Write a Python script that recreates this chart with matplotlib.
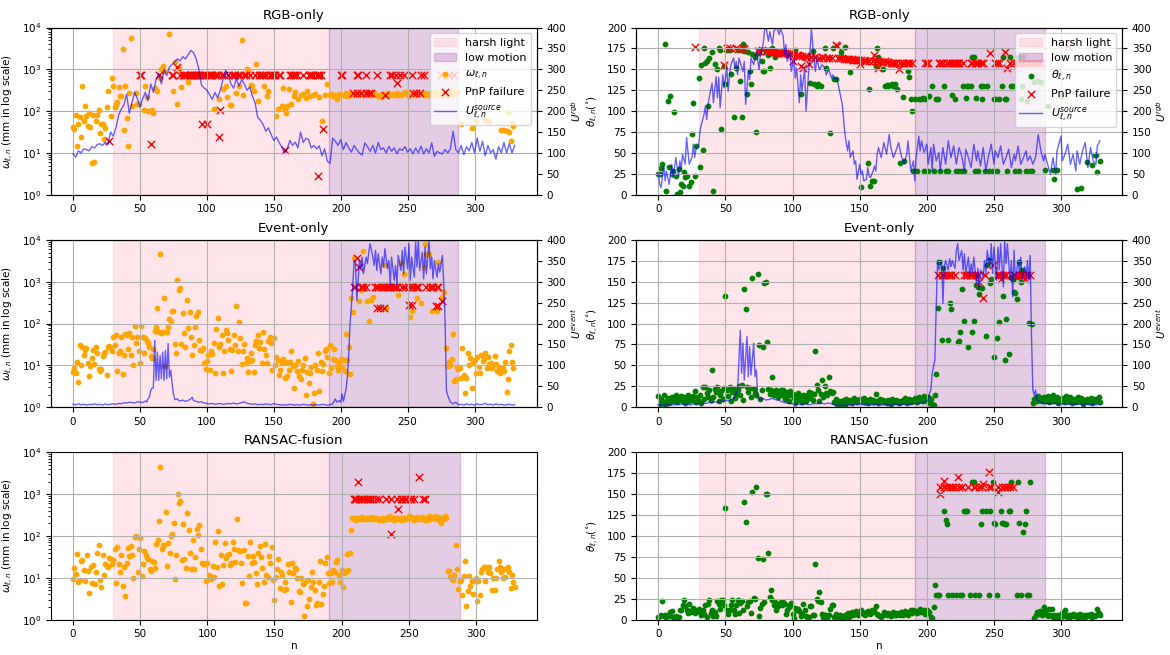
import numpy as np
import matplotlib.pyplot as plt

nan = np.nan

harsh_light = (30, 191)
low_motion = (191, 288)

# ---------------- RGB-only ----------------
rgb_w_n = [0, 1, 2, 3, 4, 5, 6, 7, 8, 9,
           10, 11, 12, 13, 14, 15, 16, 17, 18, 19,
           20, 21, 22, 23, 24, 25, 26, 28, 29, 30,
           31, 32, 33, 34, 35, 36, 37, 38, 39, 40,
           41, 42, 43, 44, 47, 48, 49, 53, 54, 55,
           56, 59, 60, 61, 63, 65, 66, 67, 68, 72,
           75, 76, 78, 79, 81, 86, 105, 109, 112, 114,
           115, 117, 118, 122, 124, 126, 127, 130, 131, 133,
           134, 135, 137, 138, 143, 145, 146, 152, 153, 156,
           157, 158, 159, 160, 161, 163, 165, 166, 168, 170,
           172, 174, 175, 177, 179, 181, 184, 186, 188, 190,
           192, 193, 194, 195, 197, 198, 199, 202, 203, 204,
           205, 206, 207, 209, 210, 214, 216, 217, 218, 220,
           222, 223, 225, 226, 228, 229, 230, 231, 232, 234,
           235, 236, 239, 240, 242, 243, 245, 246, 248, 249,
           250, 251, 252, 255, 257, 258, 261, 263, 264, 265,
           266, 267, 268, 269, 270, 271, 272, 273, 274, 275,
           276, 277, 278, 279, 280, 281, 282, 283, 284, 286,
           287, 290, 298, 301, 308, 311, 320, 322, 324, 325,
           326, 327, 328, 329]
rgb_w = [42, 38, 80, 15, 48, 72, 24, 400, 57, 135,
         76, 45, 91, 42, 5.6, 79, 6.2, 57, 79, 105,
         30, 50, 48, 21, 40, 125, 310, 76, 620, 400,
         125, 150, 165, 380, 230, 230, 3100, 35, 400, 70,
         15, 270, 5600, 130, 275, 145, 150, 105, 400, 215,
         100, 105, 90, 350, 300, 620, 1000, 1200, 900, 7000,
         300, 1500, 150, 1070, 380, 490, 110, 190, 330, 400,
         220, 140, 140, 275, 400, 4900, 240, 1000, 950, 430,
         400, 310, 1350, 175, 400, 235, 300, 76, 110, 130,
         360, 105, 90, 130, 330, 150, 230, 280, 200, 240,
         260, 210, 300, 230, 250, 260, 220, 57, 240, 450,
         240, 260, 230, 250, 200, 240, 260, 250, 240, 270,
         230, 255, 245, 260, 240, 250, 265, 240, 255, 280,
         250, 245, 270, 260, 235, 250, 220, 260, 240, 255,
         265, 250, 260, 240, 270, 250, 245, 255, 280, 260,
         250, 235, 270, 260, 245, 265, 255, 250, 275, 240,
         260, 250, 280, 265, 245, 300, 270, 255, 260, 250,
         280, 240, 270, 260, 290, 250, 265, 300, 255, 270,
         280, 48, 40, 57, 63, 57, 36, 35, 34, 93,
         31, 19, 53, 43]

rgb_fail_n = [27, 50, 51, 58, 64, 74, 75, 78, 96, 100,
              80, 82, 83, 84, 85, 87, 88, 89, 90, 91,
              92, 93, 94, 95, 97, 98, 99, 101, 102, 103,
              104, 106, 107, 108, 111, 113, 116, 119, 120, 121,
              123, 125, 128, 129, 132, 136, 139, 140, 141, 142,
              144, 147, 148, 149, 150, 151, 154, 155, 162, 163,
              164, 165, 166, 167, 172, 176, 177, 178, 179, 182,
              183, 184, 185, 200, 201, 212, 213, 219, 227, 237,
              238, 241, 244, 247, 253, 260, 262, 275, 281, 285,
              109, 110, 158, 183, 187, 242, 209, 212, 215, 219,
              221, 223, 233, 254, 256, 259]
rgb_fail_w = [19, 750, 750, 16, 750, 750, 750, 1120, 50, 50,
              750, 750, 750, 750, 750, 750, 750, 750, 750, 750,
              750, 750, 750, 750, 750, 750, 750, 750, 750, 750,
              750, 750, 750, 750, 750, 750, 750, 750, 750, 750,
              750, 750, 750, 750, 750, 750, 750, 750, 750, 750,
              750, 750, 750, 750, 750, 750, 750, 750, 750, 750,
              750, 750, 750, 750, 750, 750, 750, 750, 750, 750,
              750, 750, 750, 750, 750, 750, 750, 750, 750, 750,
              750, 750, 750, 750, 750, 750, 750, 750, 750, 750,
              24, 105, 11.5, 2.8, 38, 470, 275, 275, 275, 275,
              275, 275, 250, 275, 275, 275]

rgb_u_n = list(range(0, 331, 2))
rgb_u = [98, 90, 105, 100, 110, 108, 105, 115, 112, 120,
         122, 118, 125, 120, 150, 140, 160, 190, 205, 215,
         240, 195, 220, 245, 230, 210, 230, 245, 225, 265,
         245, 275, 290, 265, 300, 285, 305, 312, 318, 325,
         320, 330, 325, 335, 345, 340, 325, 300, 262, 255,
         250, 240, 228, 245, 232, 250, 275, 298, 285, 265,
         255, 278, 260, 275, 265, 250, 258, 236, 220, 185,
         178, 168, 152, 160, 144, 130, 138, 125, 114, 100,
         110, 130, 118, 126, 112, 150, 125, 135, 132, 112,
         118, 110, 117, 93, 110, 80, 75, 135, 128, 118,
         132, 108, 125, 112, 102, 118, 108, 100, 95, 124,
         115, 104, 118, 100, 125, 108, 112, 100, 116, 104,
         112, 98, 110, 106, 115, 102, 110, 98, 112, 100,
         116, 98, 110, 100, 124, 92, 104, 100, 98, 108,
         100, 110, 152, 108, 100, 118, 96, 115, 105, 125,
         100, 136, 104, 128, 93, 118, 100, 108, 85, 115,
         100, 125, 100, 122, 100, 118]

rgbt_n = [0, 1, 2, 3, 5, 6, 7, 8, 9, 10,
          11, 12, 13, 14, 15, 16, 17, 18, 19, 20,
          21, 23, 24, 25, 26, 27, 28, 30, 31, 32,
          33, 34, 35, 36, 37, 38, 40, 41, 42, 44,
          45, 46, 47, 49, 50, 51, 53, 54, 56, 58,
          59, 61, 62, 63, 64, 66, 67, 68, 69, 70,
          72, 73, 74, 76, 77, 78, 79, 80, 82, 83,
          84, 85, 87, 95, 102, 106, 113, 115, 116, 118,
          119, 121, 124, 125, 128, 130, 131, 132, 136, 139,
          143, 151, 156, 157, 158, 159, 161, 162, 163, 164,
          165, 167, 169, 170, 171, 172, 174, 175, 176, 178,
          180, 182, 183, 186, 187, 188, 189, 190, 191, 193,
          194, 196, 197, 198, 199, 201, 202, 204, 205, 207,
          208, 210, 213, 214, 216, 219, 221, 222, 224, 226,
          227, 228, 229, 230, 231, 233, 234, 235, 236, 237,
          238, 240, 241, 242, 243, 245, 246, 249, 250, 251,
          252, 254, 256, 257, 258, 259, 260, 262, 263, 264,
          266, 268, 269, 270, 271, 272, 274, 275, 277, 278,
          280, 283, 285, 288, 290, 294, 295, 297, 300, 312,
          315, 319, 323, 325, 326, 327, 329]
rgbt_theta = [25, 25, 32, 37, 180, 5, 112, 33, 118, 25,
              29, 99, 23, 1, 31, 3, 13, 10, 27, 21,
              22, 10, 15, 73, 110, 23, 58, 140, 33, 155,
              54, 176, 158, 160, 106, 164, 171, 5, 156, 150,
              175, 173, 79, 154, 132, 173, 173, 144, 93, 152,
              173, 136, 93, 180, 172, 120, 171, 148, 132, 168,
              165, 75, 169, 173, 160, 148, 148, 173, 167, 152,
              169, 175, 165, 169, 173, 121, 134, 172, 132, 130,
              132, 130, 175, 152, 74, 176, 138, 138, 171, 177,
              147, 9, 38, 127, 11, 17, 17, 154, 176, 165,
              160, 150, 130, 131, 130, 131, 132, 130, 133, 127,
              38, 117, 40, 148, 141, 115, 100, 29, 115, 29,
              115, 114, 116, 29, 115, 29, 118, 130, 29, 115,
              114, 29, 130, 29, 29, 119, 115, 29, 29, 29,
              130, 29, 116, 130, 130, 130, 165, 165, 29, 116,
              29, 130, 115, 130, 29, 130, 29, 29, 115, 114,
              29, 115, 130, 165, 115, 114, 29, 165, 130, 130,
              29, 165, 29, 115, 130, 165, 29, 112, 29, 29,
              135, 136, 135, 30, 106, 30, 19, 30, 118, 7,
              8, 39, 36, 47, 47, 27, 40]

rgbt_fail_n = [27, 49, 51, 53, 58, 59, 63, 64, 74, 75,
               77, 80, 81, 83, 84, 85, 86, 88, 89, 90,
               91, 92, 93, 94, 96, 97, 98, 99, 100, 101,
               103, 104, 105, 106, 107, 108, 109, 110, 111, 112,
               114, 117, 120, 122, 123, 126, 127, 129, 132, 133,
               134, 135, 137, 138, 140, 141, 142, 144, 145, 146,
               147, 148, 149, 150, 151, 153, 154, 155, 157, 160,
               161, 162, 163, 164, 166, 167, 169, 170, 171, 173,
               174, 175, 176, 177, 179, 180, 182, 183, 185, 186,
               187, 189, 199, 200, 201, 209, 210, 211, 212, 215,
               217, 219, 220, 221, 222, 223, 224, 227, 233, 234,
               236, 237, 238, 240, 242, 247, 251, 252, 254, 258,
               260, 262, 265, 267, 269, 271, 273, 275, 277, 279,
               281, 283, 285, 305]
rgbt_fail_theta = [177, 155, 175, 175, 175, 174, 175, 174, 172, 172,
                   173, 172, 172, 171, 172, 171, 171, 170, 170, 171,
                   170, 169, 170, 169, 169, 168, 168, 168, 160, 167,
                   167, 167, 166, 154, 166, 152, 166, 166, 165, 156,
                   165, 165, 164, 165, 164, 164, 164, 163, 179, 178,
                   163, 163, 163, 162, 162, 162, 162, 162, 161, 161,
                   161, 161, 161, 156, 161, 161, 160, 160, 160, 160,
                   167, 160, 160, 152, 159, 159, 160, 159, 159, 158,
                   158, 158, 158, 158, 150, 158, 158, 158, 158, 158,
                   158, 158, 158, 158, 158, 158, 158, 158, 158, 158,
                   158, 158, 158, 158, 158, 158, 158, 158, 158, 158,
                   158, 158, 158, 158, 158, 169, 158, 158, 158, 171,
                   152, 158, 158, 158, 158, 158, 158, 158, 158, 158,
                   158, 158, 158, 177]

rgbt_u_n = [0, 1, 2, 4, 5, 6, 8, 10, 11, 13,
            15, 16, 17, 18, 20, 21, 23, 25, 26, 27,
            28, 30, 31, 32, 34, 35, 36, 37, 39, 40,
            41, 43, 44, 45, 46, 48, 49, 51, 52, 53,
            54, 56, 57, 58, 59, 60, 63, 64, 65, 67,
            68, 69, 71, 73, 75, 76, 78, 79, 80, 82,
            83, 85, 86, 88, 90, 91, 93, 94, 95, 96,
            98, 99, 101, 102, 103, 105, 106, 107, 109, 110,
            112, 113, 114, 116, 117, 118, 120, 122, 124, 125,
            127, 129, 130, 132, 133, 135, 137, 139, 141, 142,
            143, 145, 146, 147, 148, 150, 151, 152, 153, 155,
            156, 157, 158, 160, 161, 162, 163, 164, 166, 168,
            170, 172, 173, 175, 177, 179, 181, 183, 185, 186,
            188, 190, 191, 192, 194, 195, 196, 198, 200, 201,
            203, 204, 205, 207, 209, 210, 212, 214, 216, 218,
            220, 222, 224, 226, 228, 229, 231, 233, 235, 237,
            238, 240, 242, 244, 246, 248, 250, 251, 253, 255,
            257, 259, 261, 263, 265, 266, 268, 270, 272, 274,
            275, 277, 279, 281, 283, 285, 287, 288, 290, 292,
            294, 296, 297, 300, 301, 303, 305, 307, 309, 311,
            312, 314, 316, 318, 320, 322, 324, 326, 327, 329]
rgbt_u = [51, 25, 17, 69, 33, 57, 25, 73, 41, 89,
          45, 81, 61, 97, 73, 137, 73, 89, 121, 89,
          109, 117, 152, 168, 192, 212, 180, 216, 252, 267,
          220, 283, 232, 281, 208, 287, 256, 303, 248, 287,
          311, 327, 303, 319, 287, 327, 295, 319, 216, 295,
          275, 327, 311, 343, 299, 335, 359, 390, 406, 367,
          390, 359, 390, 402, 383, 398, 379, 335, 359, 319,
          343, 295, 327, 279, 303, 220, 287, 248, 303, 200,
          295, 343, 398, 319, 295, 327, 299, 311, 303, 287,
          299, 279, 287, 275, 279, 248, 216, 144, 105, 129,
          89, 105, 73, 81, 37, 73, 49, 57, 33, 37,
          65, 45, 41, 57, 69, 57, 97, 113, 89, 125,
          97, 144, 117, 89, 105, 125, 93, 73, 97, 129,
          57, 81, 33, 89, 140, 105, 129, 101, 121, 73,
          113, 57, 121, 81, 101, 57, 113, 73, 129, 89,
          117, 73, 113, 93, 57, 109, 89, 65, 121, 81,
          105, 69, 113, 57, 93, 121, 73, 105, 89, 117,
          73, 89, 109, 65, 97, 81, 117, 73, 89, 105,
          81, 93, 73, 89, 144, 105, 81, 97, 73, 49,
          89, 49, 105, 140, 81, 97, 121, 73, 97, 57,
          105, 73, 105, 125, 65, 113, 81, 73, 117, 129]

# ---------------- Event-only ----------------
event_w = [6.8, 8.7, 6.7, 11.8, 4.0, 31, 10.5, 28, 18, 23,
           26, 11.5, 5.5, 9.8, 15, 23, 11, 28, 19.5, 8.1,
           7.2, 8, 17, 19.5, 21, 6, 28, 29, 26, 22,
           49, 30, 54, 7.2, 19.7, 21.5, 47, 6.3, 18, 57,
           54, 25, 59, 18, 49, 10.4, 88, 35, 49, 21.5,
           11.4, 88, 49, 20, 45, 39, 34, 28, 16.4, 15,
           24, 67, 85, 230, 64, 4560, 61, 64, 400, 9.5,
           64, 85, 128, 118, 195, 200, 33, 20, 1100, 640,
           700, 33, 175, 60, 28, 370, 77, 193, 49, 18,
           30, 85, 150, 193, 40, 23, 23, 26, 11.4, 8.2,
           12.5, 18, 7.9, 21.5, 19, 35, 6.6, 73, 134, 28,
           33, 54, 6.6, 21.5, 71, 59, 40, 24, 7.2, 23,
           54, 30, 263, 21.5, 112, 45, 11, 21.5, 33, 11.4,
           15, 6.8, 12.5, 20, 13.2, 6.8, 30, 39, 54, 26,
           37, 11.4, 64, 24, 18, 11.4, 39, 49, 34, 7.9,
           45, 10.4, 16, 13.2, 6, 7.9, 11.4, 14.2, 5, 11.8,
           5.5, 7.6, 12, 21.5, 9.8, 2.9, 10.4, 7.2, 12.5, 5.7,
           4.6, 7.9, 10.4, 15, 2.0, 6.8, 3.8, 6.6, 9, 1.2,
           2.2, 10.4, 7.6, 19.7, 2.5, 12, 7.2, 11, 21.5, 24,
           16, 6.6, 31, 8.6, 14.2, 24, 13.2, 9.5, 7.6, 12,
           14.2, 9.0, 13.6, 7.2, 57, 13.2, 28, 6.3, 400, 193,
           3800, nan, nan, nan, 340, 640, nan, 5500, nan, nan,
           350, 115, nan, 360, 440, nan, nan, nan, nan, nan,
           nan, nan, nan, 2500, 230, nan, nan, nan, nan, nan,
           nan, nan, nan, 480, nan, 2800, nan, 1500, nan, nan,
           nan, nan, 147, 200, nan, nan, nan, 400, nan, nan,
           315, nan, 2200, 7900, 4500, nan, 4500, nan, 200, nan,
           nan, nan, 195, 3000, nan, nan, 440, 580, nan, 26,
           9.5, 12, 10.4, 14, 57, 4.2, 4.6, 9, 8.2, 8.6,
           5, 26, 6, 2.2, 5, 19.7, 10.4, 15, 2.9, 11.4,
           13.2, 6.6, 15.8, 9, 6.6, 18, 12.5, 14, 19.7, 8.6,
           15.8, 11, 11.4, 8.6, 10, 16.4, 11, 7.2, 9, 6.6,
           8.2, 8.6, 7.2, 12, 2.3, 4.6, 21.5, 31, 11.8, 8.6]

event_fail_n = [210, 211, 212, 214, 215, 216, 217, 219, 226, 227,
                227, 228, 229, 230, 232, 232, 234, 235, 236, 237,
                239, 240, 241, 242, 246, 248, 251, 251, 253, 253,
                254, 256, 257, 258, 264, 267, 268, 269, 271, 272,
                273, 273, 276]
event_fail_w = [733, 733, 3600, 2300, 733, 733, 733, 733, 733, 733,
                232, 733, 232, 733, 733, 232, 733, 733, 733, 733,
                733, 733, 733, 733, 733, 733, 733, 280, 733, 280,
                733, 733, 733, 733, 733, 733, 733, 733, 263, 733,
                733, 263, 340]

event_u_n = [0, 2, 4, 6, 8, 10, 12, 14, 16, 18,
             20, 22, 24, 26, 28, 30, 32, 34, 36, 38,
             40, 42, 44, 46, 48, 50, 52, 54, 55, 56,
             57, 58, 59, 60, 61, 62, 63, 64, 65, 66,
             67, 68, 69, 70, 71, 72, 73, 74, 75, 76,
             78, 79, 80, 82, 84, 86, 88, 89, 90, 92,
             94, 96, 98, 100, 102, 104, 106, 108, 110, 112,
             114, 116, 118, 120, 122, 124, 126, 128, 130, 132,
             134, 136, 138, 140, 142, 144, 146, 148, 150, 152,
             154, 156, 158, 160, 162, 164, 166, 168, 170, 172,
             174, 176, 178, 180, 182, 184, 186, 188, 190, 192,
             194, 196, 197, 199, 200, 201, 202, 204, 205, 206,
             207, 209, 210, 211, 212, 214, 215, 216, 217, 219,
             220, 221, 222, 224, 225, 226, 227, 228, 230, 231,
             232, 233, 235, 236, 237, 238, 240, 241, 242, 243,
             245, 246, 247, 248, 250, 251, 252, 253, 255, 256,
             257, 258, 259, 261, 262, 263, 264, 266, 267, 268,
             269, 270, 272, 273, 274, 276, 277, 278, 279, 280,
             282, 284, 286, 288, 290, 292, 294, 296, 298, 300,
             302, 304, 306, 308, 310, 312, 314, 316, 318, 320,
             322, 324, 326, 328, 330]
event_u = [7, 6, 8, 6, 7, 5, 7, 6, 8, 6,
           7, 5, 8, 6, 7, 8, 7, 9, 8, 11,
           10, 12, 11, 10, 13, 12, 11, 15, 12, 20,
           24, 40, 46, 46, 160, 64, 132, 64, 124, 68,
           132, 64, 136, 68, 152, 72, 88, 56, 32, 18,
           20, 16, 15, 17, 14, 16, 20, 24, 16, 14,
           12, 13, 10, 9, 8, 9, 7, 8, 9, 7,
           8, 9, 8, 10, 8, 9, 11, 13, 9, 8,
           7, 8, 6, 7, 6, 8, 7, 6, 9, 7,
           6, 5, 6, 5, 7, 6, 5, 6, 5, 7,
           6, 5, 6, 5, 6, 5, 7, 6, 5, 6,
           8, 20, 12, 16, 12, 32, 14, 44, 72, 128,
           200, 287, 351, 347, 255, 351, 331, 359, 319, 359,
           343, 371, 391, 359, 339, 375, 327, 367, 319, 359,
           335, 379, 331, 351, 291, 359, 303, 339, 291, 363,
           327, 375, 319, 383, 331, 391, 303, 359, 311, 395,
           335, 399, 327, 371, 307, 383, 319, 399, 331, 359,
           307, 351, 311, 343, 323, 363, 295, 208, 40, 28,
           12, 8, 12, 6, 7, 5, 8, 6, 7, 5,
           8, 6, 7, 9, 6, 7, 5, 8, 6, 7,
           5, 6, 7, 5, 6]

event_theta = [13, 4, 10, 6, 15, 3, 8, 11, 5, 9,
               12, 7, 10, 14, 6, 11, 9, 13, 8, 12,
               5, 10, 15, 7, 11, 9, 13, 19, 6, 12,
               8, 14, 5, 24, 10, 24, 17, 12, 21, 9,
               44, 12, 22, 18, 24, 8, 15, 19, 10, 23,
               133, 20, 13, 24, 7, 18, 22, 11, 16, 20,
               25, 14, 27, 9, 141, 117, 24, 18, 23, 12,
               154, 22, 17, 15, 159, 74, 10, 20, 72, 149,
               150, 78, 22, 16, 20, 36, 14, 19, 21, 12,
               17, 20, 15, 21, 10, 18, 13, 8, 19, 14,
               16, 11, 5, 12, 17, 9, 13, 6, 15, 10,
               7, 14, 18, 11, 17, 9, 16, 67, 27, 21,
               8, 16, 33, 12, 25, 17, 14, 36, 19, 17,
               18, 6, 10, 4, 8, 2, 7, 5, 9, 3,
               10, 6, 8, 9, 5, 7, 11, 8, 6, 9,
               10, 7, 8, 11, 6, 9, 5, 8, 10, 7,
               9, 6, 16, 8, 5, 10, 7, 9, 6, 8,
               5, 9, 7, 4, 10, 8, 6, 9, 7, 5,
               8, 6, 9, 7, 11, 5, 8, 10, 6, 9,
               7, 11, 8, 6, 12, 9, 10, 7, 13, 11,
               8, 12, 5, 10, 4, 3, 15, 40, 119, 174,
               nan, 80, 167, nan, nan, nan, 80, 125, 117, nan,
               nan, nan, nan, 78, 79, 90, 141, nan, 103, nan,
               nan, 72, nan, nan, 90, 103, nan, 146, 144, 135,
               nan, 143, nan, nan, 85, 170, 176, 148, 153, nan,
               60, nan, 83, nan, 102, nan, nan, 133, 56, 106,
               nan, 64, nan, 156, 152, 138, 136, 129, 156, 174,
               150, 164, nan, nan, nan, nan, 101, nan, 100, 5,
               10, 12, 8, 13, 9, 11, 7, 12, 10, 8,
               13, 6, 11, 9, 14, 7, 10, 12, 5, 9,
               8, 11, 6, 10, 13, 7, 9, 12, 5, 8,
               10, 6, 9, 12, 7, 11, 4, 9, 8, 10,
               6, 9, 11, 5, 8, 10, 7, 9, 12, 6]

event_theta_fail_n = [208, 211, 212, 214, 216, 217, 218, 221, 228, 229,
                      230, 232, 233, 234, 236, 238, 239, 242, 243, 249,
                      252, 253, 254, 255, 255, 257, 258, 259, 265, 266,
                      269, 270, 271, 272, 273, 274, 275, 277]
event_theta_fail = [158, 158, 158, 158, 158, 158, 158, 158, 158, 158,
                    158, 158, 158, 158, 158, 158, 150, 130, 158, 170,
                    158, 158, 158, 158, 153, 158, 158, 158, 158, 158,
                    158, 158, 158, 158, 153, 158, 158, 158]

event_theta_u_n = [0, 2, 4, 6, 8, 10, 12, 14, 16, 18,
                   20, 22, 24, 26, 28, 30, 32, 34, 36, 38,
                   40, 42, 44, 46, 48, 50, 52, 54, 56, 58,
                   59, 61, 62, 63, 64, 66, 67, 68, 69, 71,
                   72, 73, 74, 76, 78, 80, 83, 85, 88, 90,
                   93, 95, 98, 100, 102, 104, 106, 108, 110, 112,
                   114, 116, 118, 120, 122, 124, 126, 128, 130, 132,
                   134, 136, 138, 140, 142, 144, 146, 148, 150, 152,
                   154, 156, 158, 160, 162, 164, 166, 168, 170, 172,
                   174, 176, 178, 180, 182, 184, 186, 188, 190, 192,
                   194, 196, 198, 200, 201, 202, 203, 204, 206, 207,
                   208, 209, 211, 212, 213, 214, 216, 217, 218, 219,
                   221, 222, 223, 224, 226, 227, 228, 229, 231, 232,
                   233, 234, 235, 237, 238, 239, 240, 242, 243, 244,
                   245, 247, 248, 249, 250, 252, 253, 254, 255, 257,
                   258, 259, 260, 262, 263, 264, 265, 266, 268, 269,
                   270, 271, 273, 274, 275, 276, 277, 278, 279, 280,
                   281, 282, 284, 286, 288, 290, 292, 294, 296, 298,
                   300, 302, 304, 306, 308, 310, 312, 314, 316, 318,
                   320, 322, 324, 326, 328, 329]
event_theta_u = [5, 6, 5, 7, 5, 6, 5, 7, 6, 8,
                 6, 7, 5, 8, 6, 9, 8, 10, 9, 12,
                 10, 13, 12, 15, 14, 16, 15, 18, 20, 33,
                 40, 184, 81, 153, 65, 169, 73, 145, 77, 153,
                 73, 89, 25, 17, 21, 17, 19, 21, 17, 16,
                 12, 10, 9, 8, 7, 8, 6, 7, 8, 6,
                 7, 9, 8, 10, 9, 8, 10, 9, 7, 6,
                 5, 6, 4, 5, 6, 5, 7, 6, 8, 6,
                 5, 7, 6, 5, 7, 6, 5, 6, 7, 5,
                 6, 8, 6, 5, 7, 6, 8, 7, 9, 8,
                 10, 9, 12, 15, 17, 33, 41, 81, 113, 240,
                 351, 328, 351, 248, 336, 351, 328, 355, 336, 351,
                 332, 375, 391, 351, 375, 328, 367, 320, 359, 312,
                 343, 320, 359, 296, 332, 280, 328, 312, 351, 320,
                 375, 336, 391, 320, 383, 304, 383, 328, 391, 288,
                 399, 343, 391, 304, 351, 264, 375, 304, 351, 320,
                 359, 304, 336, 312, 351, 304, 363, 169, 41, 29,
                 41, 17, 14, 10, 8, 9, 7, 8, 10, 7,
                 9, 8, 6, 7, 9, 6, 8, 7, 6, 8,
                 7, 6, 8, 5, 7, 6]

# ---------------- RANSAC-fusion ----------------
ransac_w = [9.3, 17, 12.6, 37, 8, 9, 25, 26, 15, 8.5,
            36, 14.5, 4.3, 18, 7.4, 20, 7.2, 14, 40, 60,
            9, 6.1, 35, 11.6, 21, 19, 18, 30, 28, 21,
            26, 48, 7.4, 54, 21, 13.6, 36, 6.4, 18, 3.7,
            23, 52, 34, 57, 35, 10, 95, 100, 13.6, 48,
            90, 11, 21, 43, 36, 30, 28, 16, 14.5, 25,
            24, 17, 66, 80, 230, 4500, 50, 60, 62, 370,
            19, 68, 40, 100, 112, 200, 9.3, 35, 1000, 600,
            680, 26, 193, 28, 17, 350, 140, 40, 16, 82,
            16, 32, 145, 105, 185, 49, 23, 21, 21, 8.6,
            23, 12, 11, 9.3, 19, 10.5, 72, 18, 130, 6.4,
            36, 7.2, 20, 68, 30, 35, 37, 20, 22, 70,
            50, 24, 260, 45, 43, 22, 7.5, 45, 2.5, 2.5,
            33, 11, 70, 22, 34, 24, 13, 7, 40, 57,
            32, 17, 7.9, 63, 12, 10.5, 34, 22, 55, 9,
            3, 10.5, 16, 28, 5.8, 14, 12, 5, 8, 5.3,
            21, 14, 2.7, 22, 13, 17, 16, 10, 4.8, 4.5,
            10, 7, 1.2, 8, 2.1, 9, 3.2, 6, 14, 8,
            5, 2.3, 2.5, 8, 25, 2.4, 4, 6.5, 22, 31,
            13, 7.7, 13, 8, 15, 14, 24, 26, 12, 8,
            15, 6, 13, 13.5, 37, 15, 40, 140, 270, 260,
            275, 240, 265, 270, 255, 280, 260, 270, 250, 265,
            275, 260, 270, 285, 255, 265, 270, 260, 240, 250,
            265, 240, 255, 270, 260, 280, 300, 250, 265, 245,
            260, 270, 250, 255, 265, 240, 275, 260, 250, 270,
            300, 265, 280, 260, 245, 270, 285, 260, 255, 270,
            290, 250, 240, 265, 245, 300, 255, 280, 270, 265,
            300, 260, 280, 240, 210, 270, 250, 300, 270, 14.2,
            14.5, 10.5, 9.6, 9, 11.5, 62, 16, 5.3, 8.4, 9,
            3.8, 11, 25, 2.1, 4.9, 11, 6.2, 8.5, 4, 8.5,
            10, 2.8, 8.5, 3.9, 14, 16, 18.5, 8.5, 18, 14,
            18.5, 13, 5.1, 9.8, 5.2, 9.8, 16, 25, 18, 13.6,
            9.8, 16.5, 10.5, 17.5, 18, 14, 5.8, 12, 7.8, 6]

ransac_fail_n = [209, 210, 211, 212, 213, 215, 217, 219, 220, 221,
                 223, 226, 228, 233, 237, 237, 241, 242, 244, 245,
                 247, 248, 251, 252, 254, 258, 261, 262]
ransac_fail_w = [750, 750, 750, 2000, 750, 750, 750, 750, 750, 750,
                 750, 750, 750, 750, 750, 110, 750, 450, 750, 750,
                 750, 750, 750, 750, 750, 2600, 750, 750]

ransac_theta = [3, 4, 5, 22, 4, 6, 3, 5, 4, 9,
                10, 3, 2, 4, 2, 3, 12, 11, 18, 24,
                16, 11, 8, 19, 9, 12, 14, 8, 11, 10,
                13, 9, 5, 11, 7, 17, 3, 19, 23, 8,
                12, 4, 9, 4, 22, 19, 13, 23, 24, 18,
                133, 11, 7, 12, 17, 23, 11, 7, 17, 24,
                8, 20, 22, 12, 141, 117, 16, 21, 22, 8,
                153, 26, 25, 159, 74, 4, 14, 19, 72, 21,
                150, 150, 80, 27, 36, 24, 17, 21, 12, 16,
                19, 21, 17, 21, 19, 7, 11, 15, 17, 20,
                7, 2, 14, 11, 13, 10, 4, 7, 19, 12,
                4, 3, 3, 16, 16, 5, 5, 67, 25, 22,
                33, 21, 7, 3, 6, 6, 1, 6, 13, 17,
                17, 3, 7, 3, 3, 5, 1, 4, 2, 6,
                5, 8, 3, 6, 9, 5, 7, 10, 8, 6,
                9, 11, 8, 7, 6, 9, 10, 8, 7, 11,
                9, 12, 16, 7, 5, 4, 3, 6, 9, 7,
                5, 8, 6, 4, 7, 9, 6, 5, 8, 7,
                6, 9, 5, 8, 10, 7, 6, 9, 11, 8,
                12, 10, 9, 8, 11, 13, 9, 10, 12, 7,
                11, 8, 9, 3, 2, 15, 41, 29, 29, 29,
                nan, nan, nan, 130, 119, 114, 29, nan, nan, 29,
                nan, nan, 29, nan, nan, 29, 29, nan, 130, 130,
                130, nan, 29, nan, 165, 165, 29, nan, nan, 29,
                114, 130, nan, nan, 130, nan, 29, 130, nan, 165,
                115, 114, 29, nan, nan, 130, 115, 115, 114, 114,
                nan, 130, 130, 165, nan, nan, nan, 29, 165, 115,
                29, nan, 105, 114, 130, 29, 29, 165, nan, nan,
                2, 6, 9, 7, 10, 8, 5, 15, 12, 7,
                4, 13, 6, 13, 3, 5, 4, 2, 5, 6,
                3, 8, 4, 12, 5, 2, 6, 3, 5, 7,
                4, 6, 3, 5, 7, 2, 4, 6, 3, 5,
                6, 4, 7, 3, 5, 4, 6, 13, 8, 6]

ransac_theta_fail_n = [210, 210, 213, 213, 215, 217, 219, 221, 223, 224,
                       226, 231, 235, 236, 239, 241, 242, 246, 246, 248,
                       253, 253, 256, 258, 260, 262, 264]
ransac_theta_fail = [158, 150, 158, 166, 158, 158, 158, 158, 170, 158,
                     158, 158, 158, 158, 158, 158, 162, 158, 176, 158,
                     158, 153, 158, 158, 158, 158, 158]


plt.rcParams['font.size'] = 7.5
plt.rcParams['axes.titlesize'] = 9.5


def draw(ax, title, n, vals, fail_n, fail_vals, kind, u_n=None, u=None, u_name=None, legend=False):
    h1 = ax.axvspan(*harsh_light, color='pink', alpha=0.4, label='harsh light')
    h2 = ax.axvspan(*low_motion, color='purple', alpha=0.2, label='low motion')
    if kind == 'w':
        h3 = ax.scatter(n, vals, s=10, color='orange', label=r'$\omega_{\ell,n}$')
    else:
        h3 = ax.scatter(n, vals, s=10, color='green', label=r'$\theta_{\ell,n}$')
    h4 = ax.scatter(fail_n, fail_vals, s=28, marker='x', color='red', linewidths=1.0,
                    label='PnP failure')
    if kind == 'w':
        ax.set_yscale('log')
        ax.set_ylim(1, 1e4)
        ax.set_ylabel(r'$\omega_{\ell,n}$ (mm in log scale)')
    else:
        ax.set_ylim(0, 200)
        ax.set_yticks(range(0, 201, 25))
        ax.set_ylabel(r'$\theta_{\ell,n}(^{\circ})$')
    ax.set_title(title)
    ax.grid(True)
    if u is not None:
        ax2 = ax.twinx()
        h5, = ax2.plot(u_n, u, color='blue', alpha=0.6, lw=1.0, label=r'$U^{source}_{\ell,n}$')
        ax2.set_ylim(0, 400)
        ax2.set_yticks(range(0, 401, 50))
        ax2.set_ylabel(r'$U^{%s}$' % u_name, labelpad=2)
        if legend:
            ax2.legend(handles=[h1, h2, h3, h4, h5], loc='upper right', fontsize=8)


fig, axes = plt.subplots(3, 2, figsize=(11.7, 6.55), dpi=100)
fig.subplots_adjust(left=0.0436, right=0.959, top=0.958, bottom=0.054, wspace=0.205, hspace=0.27)

draw(axes[0, 0], 'RGB-only', rgb_w_n, rgb_w, rgb_fail_n, rgb_fail_w, 'w',
     rgb_u_n, rgb_u, 'rgb', legend=True)
draw(axes[0, 1], 'RGB-only', rgbt_n, rgbt_theta, rgbt_fail_n, rgbt_fail_theta, 't',
     rgbt_u_n, rgbt_u, 'rgb', legend=True)

draw(axes[1, 0], 'Event-only', np.arange(len(event_w)), event_w, event_fail_n, event_fail_w, 'w',
     event_u_n, event_u, 'event')
draw(axes[1, 1], 'Event-only', np.arange(len(event_theta)), event_theta,
     event_theta_fail_n, event_theta_fail, 't', event_theta_u_n, event_theta_u, 'event')

draw(axes[2, 0], 'RANSAC-fusion', np.arange(len(ransac_w)), ransac_w,
     ransac_fail_n, ransac_fail_w, 'w')
draw(axes[2, 1], 'RANSAC-fusion', np.arange(len(ransac_theta)), ransac_theta,
     ransac_theta_fail_n, ransac_theta_fail, 't')
axes[2, 0].set_xlabel('n', labelpad=1)
axes[2, 1].set_xlabel('n', labelpad=1)

fig.savefig('out.png', dpi=100)
